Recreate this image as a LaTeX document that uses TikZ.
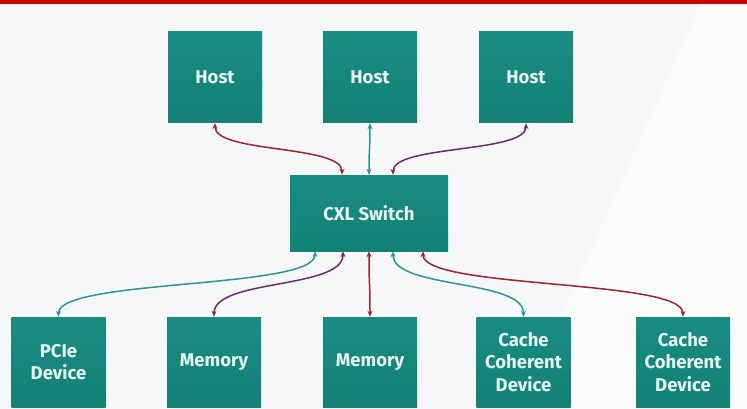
\documentclass[tikz,border=0pt]{standalone}
\usepackage{fontspec}
\setmainfont{Fira Sans}
\usetikzlibrary{arrows.meta}
\definecolor{boxtop}{RGB}{25,140,130}
\definecolor{boxbot}{RGB}{19,129,117}
\definecolor{boxtext}{RGB}{228,246,238}
\definecolor{arrred}{RGB}{158,36,52}
\definecolor{arrteal}{RGB}{40,150,156}
\definecolor{arrpurple}{RGB}{108,44,108}
\definecolor{topbar}{RGB}{204,0,0}
\definecolor{paper}{RGB}{246,247,248}
\tikzset{
  unit/.style={top color=boxtop,bottom color=boxbot,minimum width=94pt,minimum height=91pt,
    text=boxtext,align=center,font=\fontsize{18.5}{22.5}\selectfont\bfseries},
  link/.style={line width=1.5pt,{Stealth[length=6pt,width=5pt]}-{Stealth[length=6pt,width=5pt]}}
}
\begin{document}
\begin{tikzpicture}[x=1pt,y=-1pt]
\useasboundingbox (0,0) rectangle (747,409);
\fill[paper] (0,0) rectangle (747,409);
\fill[white,opacity=0.5] (700,4) -- (747,4) -- (747,409) -- (520,409) -- cycle;
\fill[topbar] (0,0.5) rectangle (747,4);
\foreach \x/\n in {215/1,370/2,526/3}{
  \node[unit] (H\n) at (\x,77.5) {Host};
}
\node[unit,minimum width=158pt,minimum height=76pt] (S) at (369,213) {CXL Switch};
\foreach \x/\n/\t in {58.5/1/{PCIe\\Device},214/2/Memory,370/3/Memory,523.5/4/{Cache\\Coherent\\Device},683/5/{Cache\\Coherent\\Device}}{
  \node[unit,minimum height=90pt] (D\n) at (\x,362) {\t};
}
\foreach \s/\d/\c in {-27/1/arrred,0/2/arrteal,24/3/arrpurple}{
  \draw[link,\c] ([xshift=\s]S.north) .. controls +(0,-30) and +(0,30) .. (H\d.south);
}
\foreach \s/\d/\c in {-54/1/arrteal,-26/2/arrpurple,0/3/arrred,24/4/arrteal,54/5/arrred}{
  \draw[link,\c] ([xshift=\s]S.south) .. controls +(0,38) and +(0,-38) .. (D\d.north);
}
\end{tikzpicture}
\end{document}
